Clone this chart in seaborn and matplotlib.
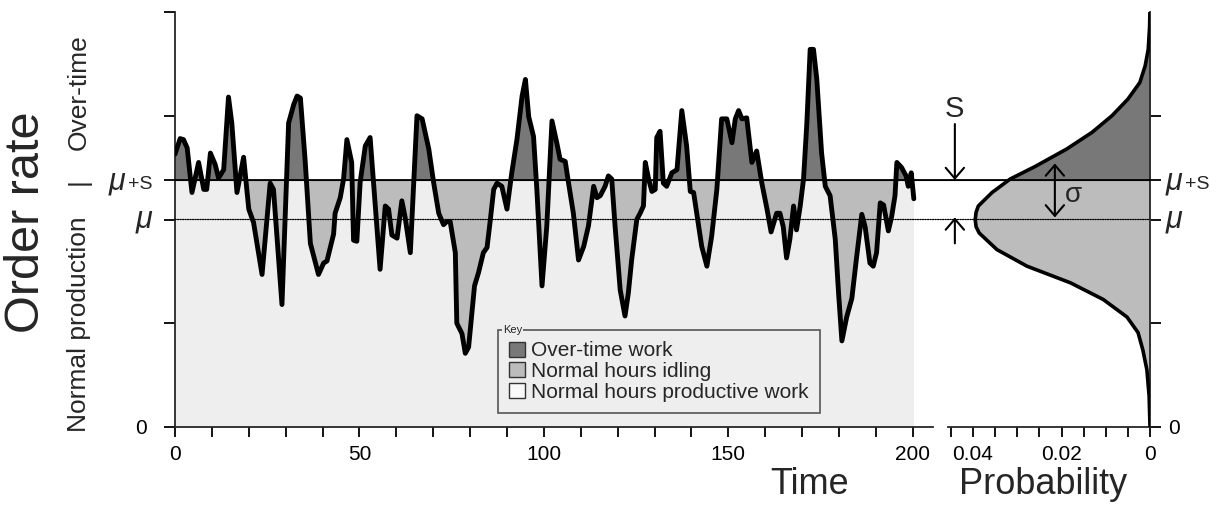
import numpy as np
import matplotlib
matplotlib.use("Agg")
import matplotlib.pyplot as plt
import seaborn as sns
from matplotlib.patches import Patch, Rectangle, ConnectionPatch
from matplotlib.ticker import FixedLocator

# ---------------- data ----------------
time = [
    0.0, 1.4, 2.3, 3.3, 4.6, 6.4, 7.8, 8.6, 9.6, 10.9,
    11.8, 13.2, 14.5, 15.4, 16.8, 18.6, 20.0, 21.3, 23.6, 25.8,
    26.7, 29.0, 30.8, 32.2, 33.1, 34.0, 35.3, 36.7, 38.9, 40.3,
    41.2, 43.0, 43.4, 44.8, 45.7, 46.6, 47.9, 48.4, 49.3, 50.2,
    51.6, 52.9, 54.3, 55.6, 57.0, 57.9, 58.8, 60.2, 61.5, 62.4,
    63.8, 65.6, 67.0, 68.8, 70.1, 71.5, 72.8, 73.7, 74.6, 76.0,
    76.4, 77.8, 78.7, 79.6, 81.2, 82.3, 83.6, 84.6, 85.5, 86.4,
    87.3, 88.6, 90.0, 91.3, 92.7, 94.1, 95.0, 95.9, 97.2, 98.1,
    99.5, 100.8, 102.2, 103.5, 104.4, 105.8, 106.7, 108.0, 109.4, 110.8,
    112.1, 113.5, 114.4, 115.3, 116.6, 117.5, 118.4, 119.3, 120.7, 122.0,
    122.9, 123.8, 125.2, 126.1, 127.0, 127.5, 128.4, 129.3, 130.2, 130.6,
    131.5, 132.4, 133.3, 134.7, 136.1, 137.4, 138.7, 139.7, 140.6, 142.8,
    144.2, 145.5, 146.9, 148.2, 149.6, 151.0, 151.9, 152.8, 153.7, 155.0,
    156.4, 157.7, 159.1, 160.5, 161.6, 163.1, 164.0, 164.9, 165.8, 166.7,
    167.7, 168.5, 169.5, 170.4, 171.3, 172.2, 173.1, 174.0, 175.3, 176.3,
    177.6, 179.0, 179.9, 180.8, 182.1, 183.5, 184.8, 186.2, 187.1, 188.4,
    189.3, 190.2, 191.2, 192.1, 193.4, 194.3, 195.2, 195.7, 197.0, 198.2,
    198.8, 199.6, 200.3]

order_rate = [
    26.3, 27.8, 27.7, 26.9, 22.6, 25.5, 22.9, 22.9, 26.4, 25.3,
    24.0, 24.8, 31.8, 29.3, 22.6, 26.0, 21.0, 19.7, 14.7, 23.5,
    22.9, 11.8, 29.3, 31.1, 31.9, 31.7, 25.6, 17.7, 14.7, 15.8,
    16.0, 18.6, 20.6, 22.1, 23.9, 27.7, 25.5, 18.0, 17.9, 23.6,
    27.1, 27.9, 21.3, 15.2, 21.3, 21.0, 18.5, 18.2, 21.8, 20.2,
    16.8, 30.0, 29.7, 26.8, 23.6, 20.6, 19.5, 19.8, 19.8, 16.8,
    10.0, 9.0, 7.1, 7.7, 13.6, 14.9, 16.8, 17.3, 20.0, 22.9,
    23.5, 23.2, 21.0, 24.5, 27.7, 31.9, 33.5, 29.9, 28.0, 22.9,
    13.6, 19.4, 29.5, 27.4, 25.8, 25.6, 23.5, 20.6, 16.1, 17.4,
    19.4, 23.2, 22.1, 22.3, 23.2, 24.2, 23.9, 19.4, 13.2, 10.7,
    12.9, 16.1, 20.0, 20.6, 21.3, 25.5, 23.9, 22.7, 22.9, 27.9,
    28.5, 23.5, 23.2, 24.5, 24.8, 30.5, 27.1, 22.7, 22.6, 17.4,
    15.5, 18.4, 22.9, 29.7, 29.7, 27.4, 29.7, 30.5, 29.7, 29.8,
    25.5, 26.6, 23.5, 21.0, 18.8, 20.6, 20.6, 19.3, 16.3, 18.1,
    21.3, 19.0, 21.3, 23.9, 29.3, 36.4, 36.4, 33.5, 26.4, 23.2,
    22.3, 18.1, 12.9, 8.3, 10.6, 12.4, 16.4, 20.5, 19.3, 15.8,
    15.5, 16.8, 21.6, 21.4, 18.9, 20.3, 22.3, 25.5, 25.0, 24.2,
    23.2, 24.5, 22.0]

prob_level = [0.0, 3.0, 5.5, 7.4, 9.1, 10.6, 12.3, 13.9, 15.5, 17.1,
              18.7, 19.3, 20.0, 20.7, 21.3, 22.6, 23.9, 25.1, 26.8, 28.4,
              30.0, 31.6, 33.2, 34.8, 36.4, 38.5, 40.3]
prob_density = [0.0, 0.0002, 0.0007, 0.0016, 0.0027, 0.0052, 0.0106, 0.018, 0.0278, 0.0346,
                0.0386, 0.0393, 0.0395, 0.0393, 0.0388, 0.0357, 0.0316, 0.026, 0.0188, 0.0131,
                0.0086, 0.005, 0.0023, 0.0011, 0.0004, 0.0001, 0.0]

MU = 20.0
MU_S = 23.8
time_ticks = [0, 50, 100, 150, 200]
time_tick_labels = ["0", "50", "100", "150", "200"]
prob_ticks = [0.04, 0.02, 0.0]
prob_tick_labels = ["0.04", "0.02", "0"]
key_labels = ["Over-time work", "Normal hours idling", "Normal hours productive work"]

DARK = "#787878"
MID = "#bcbcbc"
LIGHT = "#eeeeee"

# ---------------- style ----------------
sns.set_style("ticks")
plt.rcParams["font.family"] = ["Liberation Sans", "DejaVu Sans"]
plt.rcParams["axes.linewidth"] = 1.3
plt.rcParams["xtick.color"] = "black"
plt.rcParams["ytick.color"] = "black"

W, H = 1225, 508
fig = plt.figure(figsize=(W / 100, H / 100), dpi=100)


def fx(px):
    return px / W


def fy(py):
    return 1 - py / H


ax1 = fig.add_axes([fx(175), fy(427), (933 - 175) / W, (427 - 12) / H])
ax2 = fig.add_axes([fx(948), fy(427), (1150 - 948) / W, (427 - 12) / H])

t = np.array(time)
r = np.array(order_rate)

# ---------------- left panel ----------------
ax1.fill_between(t, 0, MU_S, color=LIGHT, lw=0, zorder=1)
ax1.fill_between(t, r, MU_S, where=r < MU_S, interpolate=True, color=MID, lw=0, zorder=2)
ax1.fill_between(t, MU_S, r, where=r > MU_S, interpolate=True, color=DARK, lw=0, zorder=2)
sns.lineplot(x=t, y=r, ax=ax1, color="black", lw=3.5, sort=False, estimator=None, zorder=4)

ax1.set_xlim(0, 205.5)
ax1.set_ylim(0, 40)
ax1.set_xticks(time_ticks)
ax1.set_xticklabels(time_tick_labels)
ax1.xaxis.set_minor_locator(FixedLocator([v for v in range(10, 201, 10) if v % 50]))
ax1.tick_params(axis="x", which="both", length=7, width=1.3, direction="out", labelsize=15, pad=6)
ax1.set_yticks([0, 10, MU, MU_S, 30, 40])
ax1.set_yticklabels(["0", "", "", "", "", ""])
ax1.tick_params(axis="y", length=8, width=1.3, direction="out", labelsize=15, pad=12)
ax1.spines["top"].set_visible(False)
ax1.spines["right"].set_visible(False)
ax1.set_xlabel("")
ax1.set_ylabel("")

# mu labels left
ax1.annotate("μ", xy=(0, MU), xycoords=("axes fraction", "data"), xytext=(-16.5, -6),
             textcoords="offset points", ha="right", va="baseline", fontsize=22, style="italic")
ax1.annotate("+S", xy=(0, MU_S), xycoords=("axes fraction", "data"), xytext=(-16, -6.5),
             textcoords="offset points", ha="right", va="baseline", fontsize=14)
ax1.annotate("μ", xy=(0, MU_S), xycoords=("axes fraction", "data"), xytext=(-36, -6.5),
             textcoords="offset points", ha="right", va="baseline", fontsize=22, style="italic")

# legend
handles = [Patch(facecolor=DARK, edgecolor="#333333", lw=1),
           Patch(facecolor=MID, edgecolor="#333333", lw=1),
           Patch(facecolor="#f8f8f8", edgecolor="#333333", lw=1)]
leg = ax1.legend(handles, key_labels, loc="upper left", bbox_to_anchor=(fx(498), fy(330)),
                 bbox_transform=fig.transFigure, fontsize=15, frameon=True, fancybox=False,
                 edgecolor="#555555", facecolor=LIGHT, framealpha=1, handlelength=0.75,
                 handleheight=0.75, handletextpad=0.3, labelspacing=0.08, borderpad=0.55,
                 borderaxespad=0)
leg.get_frame().set_linewidth(1.2)
leg.set_zorder(6)
fig.text(fx(503), fy(330), "Key", fontsize=8, ha="left", va="center",
         bbox=dict(facecolor=LIGHT, edgecolor="none", pad=0.5), zorder=10)

# ---------------- right panel ----------------
ys = np.array(prob_level)
ds = np.array(prob_density)
ax2.fill_betweenx(ys, 0, ds, color=MID, lw=0, zorder=1)
dark = ax2.fill_betweenx(ys, 0, ds, color=DARK, lw=0, zorder=2)
clip = Rectangle((0, MU_S), 0.05, 30, transform=ax2.transData)
dark.set_clip_path(clip)
sns.lineplot(x=ds, y=ys, ax=ax2, color="black", lw=2.6, sort=False, estimator=None, zorder=4)

ax2.set_xlim(0.04565, 0)
ax2.set_ylim(0, 40)
ax2.set_xticks(prob_ticks)
ax2.set_xticklabels(prob_tick_labels)
ax2.xaxis.set_minor_locator(FixedLocator([0.045, 0.035, 0.03, 0.025, 0.015, 0.01, 0.005]))
ax2.tick_params(axis="x", which="both", length=7, width=1.3, direction="out", labelsize=15, pad=6)
ax2.yaxis.tick_right()
ax2.set_yticks([0, 10, MU, MU_S, 30])
ax2.set_yticklabels(["0", "", "", "", ""])
ax2.tick_params(axis="y", length=8, width=1.3, direction="out", labelsize=15, pad=5)
ax2.spines["top"].set_visible(False)
ax2.spines["left"].set_visible(False)
ax2.set_xlabel("")
ax2.set_ylabel("")

ax2.annotate("μ", xy=(1, MU), xycoords=("axes fraction", "data"), xytext=(11, -6),
             textcoords="offset points", ha="left", va="baseline", fontsize=22, style="italic")
ax2.annotate("μ", xy=(1, MU_S), xycoords=("axes fraction", "data"), xytext=(11, -6.5),
             textcoords="offset points", ha="left", va="baseline", fontsize=22, style="italic")
ax2.annotate("+S", xy=(1, MU_S), xycoords=("axes fraction", "data"), xytext=(25.5, -6.5),
             textcoords="offset points", ha="left", va="baseline", fontsize=14)

# S arrows and sigma arrow
arrow_kw = dict(arrowstyle="->, head_length=0.35, head_width=0.3", lw=1.5, color="black",
                mutation_scale=22, shrinkA=0, shrinkB=0)
ax2.annotate("", xy=(0.0441, MU_S), xytext=(0.0441, 29.2), arrowprops=arrow_kw, zorder=5)
ax2.annotate("", xy=(0.0441, MU + 0.2), xytext=(0.0441, 17.7), arrowprops=arrow_kw, zorder=5)
ax2.text(0.0441, 29.9, "S", fontsize=21, ha="center", va="baseline")
sig_kw = dict(arrowstyle="<->, head_length=0.35, head_width=0.3", lw=1.5, color="black",
              mutation_scale=22, shrinkA=0, shrinkB=0)
ax2.annotate("", xy=(0.0215, MU + 0.2), xytext=(0.0215, 25.4), arrowprops=sig_kw, zorder=5)
ax2.text(0.0172, 22.4, "σ", fontsize=20, ha="center", va="center")

# horizontal reference lines spanning both panels
fig.add_artist(ConnectionPatch(xyA=(0, MU_S), coordsA=ax1.transData, xyB=(0, MU_S),
                               coordsB=ax2.transData, color="black", lw=1.4, zorder=3))
fig.add_artist(ConnectionPatch(xyA=(0, MU), coordsA=ax1.transData, xyB=(0, MU),
                               coordsB=ax2.transData, color="black", lw=0.9,
                               linestyle=(0, (1, 1)), zorder=3))

# ---------------- labels ----------------
fig.text(fx(27), fy(222), "Order rate", rotation=90, fontsize=35, ha="center", va="center")
fig.text(fx(79), fy(92), "Over-time", rotation=90, fontsize=19, ha="center", va="center")
fig.text(fx(79), fy(182), "|", rotation=90, fontsize=19, ha="center", va="center")
fig.text(fx(79), fy(324), "Normal production", rotation=90, fontsize=19, ha="center", va="center")
fig.text(fx(810), fy(494), "Time", fontsize=26, ha="center", va="baseline")
fig.text(fx(1043), fy(494), "Probability", fontsize=26, ha="center", va="baseline")

fig.savefig("out.png", dpi=100)
